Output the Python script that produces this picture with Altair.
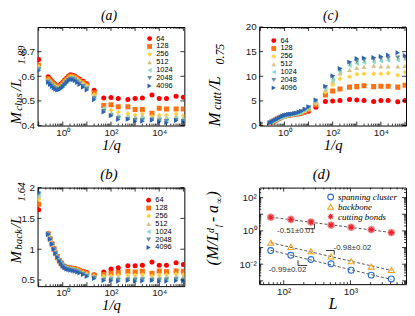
import altair as alt
import pandas as pd

# ---------------- data ----------------
SIZES = ["64", "128", "256", "512", "1024", "2048", "4096"]
COLORS = ["#ff0000", "#ff7010", "#ffd33d", "#d6c28e", "#86dcc8", "#6b8c9b", "#2b63b3"]
SHAPES = ["circle", "square", "diamond", "triangle-up", "triangle-left", "triangle-down", "triangle-right"]

INV_Q = [0.1, 0.25, 0.3, 0.36, 0.43, 0.5, 0.6, 0.72, 0.85, 1.0, 1.2, 1.45, 1.75, 2.1, 2.6, 3.2, 4.0, 5.0, 7.0, 10.0,
         20, 50, 100, 200, 500, 1000, 2000, 5000, 10000, 20000, 50000, 100000]

CLUS = {
    "64":   [0.668, 0.598, 0.589, 0.580, 0.572, 0.567, 0.563, 0.564, 0.569, 0.576, 0.585, 0.593, 0.601, 0.606, 0.604, 0.600, 0.594, 0.588, 0.580, 0.570,
             0.543, 0.512, 0.514, 0.510, 0.506, 0.510, 0.512, 0.524, 0.510, 0.510, 0.519, 0.515],
    "128":  [0.645, 0.590, 0.582, 0.574, 0.567, 0.562, 0.558, 0.559, 0.564, 0.571, 0.580, 0.588, 0.596, 0.601, 0.600, 0.596, 0.590, 0.583, 0.575, 0.565,
             0.533, 0.481, 0.484, 0.476, 0.476, 0.465, 0.465, 0.450, 0.470, 0.467, 0.467, 0.467],
    "256":  [0.640, 0.586, 0.578, 0.570, 0.563, 0.558, 0.555, 0.556, 0.561, 0.568, 0.577, 0.585, 0.593, 0.598, 0.597, 0.593, 0.587, 0.580, 0.571, 0.561,
             0.525, 0.467, 0.462, 0.454, 0.448, 0.443, 0.448, 0.438, 0.442, 0.442, 0.447, 0.440],
    "512":  [0.635, 0.583, 0.575, 0.567, 0.560, 0.555, 0.552, 0.553, 0.558, 0.565, 0.574, 0.582, 0.590, 0.595, 0.594, 0.590, 0.584, 0.577, 0.567, 0.557,
             0.520, 0.462, 0.452, 0.442, 0.440, 0.436, 0.440, 0.432, 0.437, 0.432, 0.438, 0.433],
    "1024": [0.632, 0.580, 0.572, 0.564, 0.557, 0.552, 0.549, 0.550, 0.555, 0.562, 0.571, 0.579, 0.587, 0.592, 0.591, 0.587, 0.581, 0.573, 0.563, 0.553,
             0.515, 0.470, 0.445, 0.436, 0.432, 0.428, 0.430, 0.428, 0.426, 0.425, 0.430, 0.425],
    "2048": [0.628, 0.578, 0.570, 0.562, 0.555, 0.550, 0.547, 0.548, 0.553, 0.560, 0.569, 0.577, 0.585, 0.590, 0.589, 0.585, 0.578, 0.570, 0.560, 0.549,
             0.510, 0.458, 0.440, 0.430, 0.425, 0.422, 0.422, 0.424, 0.420, 0.418, 0.422, 0.418],
    "4096": [0.622, 0.575, 0.567, 0.559, 0.552, 0.547, 0.544, 0.545, 0.550, 0.557, 0.566, 0.574, 0.582, 0.587, 0.586, 0.582, 0.575, 0.567, 0.556, 0.544,
             0.505, 0.455, 0.440, 0.425, 0.426, 0.417, 0.417, 0.422, 0.415, 0.411, 0.420, 0.415],
}

CUTT = {
    "64":   [0.18, 0.48, 0.68, 0.86, 1.04, 1.24, 1.44, 1.63, 1.82, 1.92, 2.00, 2.08, 2.12, 2.17, 2.24, 2.32, 2.40, 2.52, 2.70, 2.90,
             3.7, 4.9, 5.0, 5.1, 5.3, 5.2, 5.1, 4.9, 5.1, 5.1, 4.85, 5.1],
    "128":  [0.22, 0.50, 0.70, 0.88, 1.06, 1.26, 1.46, 1.65, 1.84, 1.94, 2.03, 2.12, 2.17, 2.22, 2.30, 2.38, 2.48, 2.63, 2.90, 3.20,
             4.2, 6.2, 7.0, 7.4, 7.8, 7.9, 8.1, 7.9, 8.0, 8.0, 7.8, 8.2],
    "256":  [0.25, 0.52, 0.71, 0.90, 1.08, 1.28, 1.48, 1.68, 1.86, 1.96, 2.06, 2.15, 2.20, 2.25, 2.33, 2.43, 2.53, 2.70, 3.00, 3.40,
             4.5, 6.8, 8.3, 9.5, 9.9, 10.4, 10.5, 10.5, 10.5, 10.6, 10.2, 10.8],
    "512":  [0.28, 0.53, 0.72, 0.92, 1.10, 1.30, 1.50, 1.70, 1.88, 1.98, 2.08, 2.18, 2.23, 2.28, 2.37, 2.47, 2.58, 2.75, 3.10, 3.50,
             4.7, 7.3, 9.0, 10.6, 11.3, 11.7, 11.9, 12.2, 12.0, 12.0, 12.0, 12.1],
    "1024": [0.30, 0.54, 0.73, 0.93, 1.12, 1.31, 1.51, 1.71, 1.90, 2.00, 2.10, 2.20, 2.25, 2.30, 2.40, 2.50, 2.62, 2.80, 3.15, 3.60,
             4.9, 7.6, 9.3, 10.9, 12.2, 12.6, 12.8, 12.9, 13.1, 13.2, 13.3, 13.4],
    "2048": [0.33, 0.55, 0.74, 0.94, 1.14, 1.33, 1.53, 1.73, 1.92, 2.03, 2.13, 2.22, 2.28, 2.33, 2.42, 2.52, 2.66, 2.85, 3.20, 3.70,
             5.0, 7.8, 9.8, 11.3, 12.6, 13.0, 13.3, 13.4, 13.6, 13.7, 13.8, 13.8],
    "4096": [0.35, 0.55, 0.75, 0.95, 1.15, 1.35, 1.55, 1.75, 1.95, 2.05, 2.15, 2.25, 2.30, 2.35, 2.45, 2.55, 2.70, 2.90, 3.30, 3.80,
             5.2, 8.0, 10.1, 11.6, 12.9, 13.6, 13.7, 13.8, 14.0, 14.3, 14.8, 14.2],
}

BACK = {
    "64":   [1.64, 1.250, 1.170, 1.090, 1.010, 0.940, 0.880, 0.820, 0.780, 0.745, 0.720, 0.705, 0.697, 0.695, 0.690, 0.685, 0.675, 0.660, 0.640, 0.620,
             0.585, 0.63, 0.68, 0.70, 0.73, 0.73, 0.74, 0.79, 0.74, 0.74, 0.78, 0.75],
    "128":  [1.73, 1.245, 1.165, 1.085, 1.005, 0.935, 0.875, 0.815, 0.775, 0.740, 0.715, 0.700, 0.692, 0.688, 0.683, 0.678, 0.668, 0.653, 0.632, 0.610,
             0.575, 0.59, 0.61, 0.62, 0.64, 0.63, 0.64, 0.61, 0.645, 0.635, 0.645, 0.64],
    "256":  [1.81, 1.240, 1.160, 1.080, 1.000, 0.930, 0.870, 0.810, 0.770, 0.735, 0.710, 0.695, 0.686, 0.682, 0.677, 0.671, 0.660, 0.645, 0.623, 0.598,
             0.565, 0.56, 0.565, 0.575, 0.575, 0.575, 0.585, 0.565, 0.575, 0.585, 0.595, 0.585],
    "512":  [1.86, 1.240, 1.160, 1.080, 1.000, 0.930, 0.870, 0.810, 0.768, 0.732, 0.707, 0.690, 0.681, 0.676, 0.670, 0.664, 0.652, 0.637, 0.614, 0.587,
             0.555, 0.535, 0.545, 0.55, 0.55, 0.55, 0.555, 0.535, 0.545, 0.555, 0.565, 0.555],
    "1024": [1.88, 1.240, 1.160, 1.080, 1.000, 0.930, 0.868, 0.808, 0.766, 0.729, 0.703, 0.686, 0.676, 0.671, 0.664, 0.657, 0.645, 0.630, 0.606, 0.577,
             0.545, 0.515, 0.525, 0.52, 0.525, 0.52, 0.525, 0.515, 0.52, 0.525, 0.535, 0.525],
    "2048": [1.90, 1.240, 1.160, 1.080, 1.000, 0.930, 0.866, 0.806, 0.763, 0.725, 0.699, 0.681, 0.671, 0.665, 0.657, 0.650, 0.638, 0.622, 0.597, 0.566,
             0.535, 0.50, 0.505, 0.50, 0.505, 0.50, 0.505, 0.50, 0.50, 0.505, 0.51, 0.50],
    "4096": [1.92, 1.240, 1.160, 1.080, 1.000, 0.930, 0.864, 0.804, 0.760, 0.720, 0.695, 0.676, 0.665, 0.659, 0.650, 0.642, 0.630, 0.614, 0.588, 0.555,
             0.525, 0.49, 0.487, 0.48, 0.49, 0.48, 0.483, 0.49, 0.48, 0.48, 0.487, 0.48],
}

# panel (d)
D_L = [64, 128, 256, 512, 1024, 2048, 4096]
D_SERIES = ["spanning cluster", "backbone", "cutting bonds"]
D_COLORS = ["#2f6fd0", "#f5a31a", "#e8202a"]
D_SPAN = [0.066, 0.034, 0.019, 0.0105, 0.0043, 0.0022, 0.0013]
D_BACKB = [0.195, 0.11, 0.06, 0.0295, 0.015, 0.0072, 0.0045]
D_CUT = [6.6, 4.9, 3.4, 2.24, 1.66, 1.2, 0.79]
FIT_L = [64, 4096]
FIT_SPAN = [0.068, 0.0012]
FIT_BACKB = [0.195, 0.0042]
FIT_CUT = [6.7, 0.80]
SLOPE_TXT = ["-0.51\u00b10.01", "-0.98\u00b10.02", "-0.99\u00b10.02"]
SLOPE_TXT_L = [152, 1070, 114]
SLOPE_TXT_V = [0.95, 0.10, 0.0043]
# small slope brackets (segments): x, x2, y, y2
BR_X = [206, 290, 432, 572, 164, 164]
BR_X2 = [290, 290, 572, 572, 164, 226]
BR_Y = [1.36, 2.69, 0.0667, 0.0667, 0.0172, 0.0084]
BR_Y2 = [1.36, 1.36, 0.0667, 0.037, 0.0084, 0.0084]

# ---------------- style ----------------
SANS = "Liberation Sans"
SERIF = "Liberation Serif"
W, H = 149, 100
XDOM = [0.09, 110000]
ONE = pd.DataFrame({"k": [0]})
ASTER = "M-1,0L1,0M0,-1L0,1M-0.7,-0.7L0.7,0.7M-0.7,0.7L0.7,-0.7"

SUP = {1: "10\u2070", 100: "10\u00b2", 10000: "10\u2074", 1000: "10\u00b3", 0.01: "10\u207b\u00b2"}


def sup_expr(vals):
    expr = "''"
    for v in vals:
        expr = f"abs(datum.value - {v}) < {v}*0.01 ? '{SUP[v]}' : " + expr
    return expr


def piece(txt, size, x, y, angle=270, align="left", baseline="alphabetic", style="italic"):
    return alt.Chart(ONE).mark_text(
        text=txt, fontSize=size, angle=angle, align=align, baseline=baseline,
        font=SERIF, fontStyle=style, color="black"
    ).encode(x=alt.value(x), y=alt.value(y))


def tick_layers(field, vals, scale, axis, length, orient, h=H):
    df = pd.DataFrame({field: vals})
    base = alt.Chart(df).mark_rule(color="black", strokeWidth=0.8)
    if orient == "x":
        enc = alt.X(f"{field}:Q", scale=scale, axis=axis)
        return [base.encode(x=enc, y=alt.value(h), y2=alt.value(h - length)),
                base.encode(x=enc, y=alt.value(0), y2=alt.value(length))]
    enc = alt.Y(f"{field}:Q", scale=scale, axis=axis)
    return [base.encode(y=enc, x=alt.value(0), x2=alt.value(length)),
            base.encode(y=enc, x=alt.value(W), x2=alt.value(W - length))]


XMAJ = [0.1, 1, 10, 100, 1000, 10000, 100000]
XMIN = [k * 10 ** e for e in range(-1, 5) for k in range(2, 10)]


def series_panel(values, ydom, yticks, ylabfmt, legx, legy, letter, letter_size, letter_y, title_pieces):
    rows = []
    for s in SIZES:
        for q, v in zip(INV_Q, values[s]):
            rows.append({"q": q, "v": v, "L": s})
    df = pd.DataFrame(rows)
    xs = alt.Scale(type="log", domain=XDOM)
    ys = alt.Scale(domain=ydom, zero=False, nice=False)
    xax = alt.Axis(values=[1, 100, 10000], labelExpr=sup_expr([1, 100, 10000]),
                   title="1/q", titlePadding=0, labelPadding=2)
    yax = alt.Axis(values=yticks, format=ylabfmt, title=None, labelPadding=3)
    leg = alt.Legend(orient="none", legendX=legx, legendY=legy, title=None,
                     labelFont=SANS, labelFontSize=7.5, symbolSize=24, rowPadding=-1.5,
                     padding=0, labelOffset=3, symbolStrokeWidth=0)
    pts = alt.Chart(df).mark_point(filled=True, size=26, opacity=1, clip=True).encode(
        x=alt.X("q:Q", scale=xs, axis=xax),
        y=alt.Y("v:Q", scale=ys, axis=yax),
        color=alt.Color("L:N", scale=alt.Scale(domain=SIZES, range=COLORS), legend=leg),
        shape=alt.Shape("L:N", scale=alt.Scale(domain=SIZES, range=SHAPES), legend=leg),
    )
    layers = [pts]
    layers += tick_layers("q", XMAJ, xs, xax, 4, "x")
    layers += tick_layers("q", XMIN, xs, xax, 2, "x")
    layers += tick_layers("v", yticks, ys, yax, 4, "y")
    layers.append(piece(letter, letter_size, W / 2 - 2, letter_y, angle=0, align="center", baseline="middle"))
    for t, sz, x, y in title_pieces:
        layers.append(piece(t, sz, x, y))
    return alt.layer(*layers).properties(width=W, height=H)


panel_a = series_panel(CLUS, [0.4, 0.8], [0.4, 0.5, 0.6, 0.7], ".1f", 110, 8, "(a)", 14, -11.5,
                       [("M", 15, -17, 99), ("clus", 11, -16, 85), (" /L", 15, -17, 65), ("1.89", 11, -13, 38)])
panel_c = series_panel(CUTT, [0, 20], [0, 5, 10, 15, 20], "d", 11, 10, "(c)", 14, -11.5,
                       [("M", 17, -40, 101), ("cutt", 12, -39, 84), (" /L", 17, -40, 64), ("0.75", 12, -36, 38)])
panel_b = series_panel(BACK, [0.4, 2.0], [0.5, 1.0, 1.5, 2.0], "~g", 109, 9, "(b)", 15, -14,
                       [("M", 15, -17, 77), ("back", 11, -16, 63), (" /L", 15, -17, 41), ("1.64", 11, -13, 14)])

# ---- panel d ----
rows = []
for name, vals in zip(D_SERIES, [D_SPAN, D_BACKB, D_CUT]):
    for l, v in zip(D_L, vals):
        rows.append({"L": l, "v": v, "s": name})
ddf = pd.DataFrame(rows)
frows = []
for name, vals in zip(D_SERIES, [FIT_SPAN, FIT_BACKB, FIT_CUT]):
    for l, v in zip(FIT_L, vals):
        frows.append({"L": l, "v": v, "s": name})
fdf = pd.DataFrame(frows)

DH = 98
dxs = alt.Scale(type="log", domain=[43, 6800])
dys = alt.Scale(type="log", domain=[0.00063, 400])
dxax = alt.Axis(values=[100, 1000], labelExpr=sup_expr([100, 1000]),
                title="L", titleFontSize=16, titlePadding=0, labelPadding=2)
dyax = alt.Axis(values=[0.01, 1, 100], labelExpr=sup_expr([0.01, 1, 100]), title=None, labelPadding=3)
dleg = alt.Legend(orient="none", legendX=68, legendY=5, title=None, labelFont=SERIF, labelFontStyle="italic",
                  labelFontSize=9, symbolSize=34, rowPadding=-1.5, padding=0, labelOffset=3,
                  symbolStrokeWidth=1.1)
fits = alt.Chart(fdf).mark_line(strokeDash=[3, 2], color="#444444", strokeWidth=0.9).encode(
    x=alt.X("L:Q", scale=dxs, axis=dxax), y=alt.Y("v:Q", scale=dys, axis=dyax), detail="s:N")
halo = alt.Chart(ddf[ddf["s"] == "cutting bonds"]).mark_point(filled=True, size=60, color="#f28b8b", opacity=0.9).encode(
    x=alt.X("L:Q", scale=dxs, axis=dxax), y=alt.Y("v:Q", scale=dys, axis=dyax))
dpts = alt.Chart(ddf).mark_point(filled=False, size=36, strokeWidth=1.1, opacity=1).encode(
    x=alt.X("L:Q", scale=dxs, axis=dxax),
    y=alt.Y("v:Q", scale=dys, axis=dyax),
    color=alt.Color("s:N", scale=alt.Scale(domain=D_SERIES, range=D_COLORS), legend=dleg),
    shape=alt.Shape("s:N", scale=alt.Scale(domain=D_SERIES, range=["circle", "triangle-up", ASTER]), legend=dleg),
)
bdf = pd.DataFrame({"L": BR_X, "L2": BR_X2, "v": BR_Y, "v2": BR_Y2})
brackets = alt.Chart(bdf).mark_rule(color="#222222", strokeWidth=0.9).encode(
    x=alt.X("L:Q", scale=dxs, axis=dxax), x2="L2:Q",
    y=alt.Y("v:Q", scale=dys, axis=dyax), y2="v2:Q")
tdf = pd.DataFrame({"L": SLOPE_TXT_L, "v": SLOPE_TXT_V, "t": SLOPE_TXT})
slopes = alt.Chart(tdf).mark_text(font=SANS, fontSize=8, color="#333333").encode(
    x=alt.X("L:Q", scale=dxs, axis=dxax), y=alt.Y("v:Q", scale=dys, axis=dyax), text="t:N")

DXMAJ = [100, 1000]
DXMIN = [50, 60, 70, 80, 90, 200, 300, 400, 500, 600, 700, 800, 900, 2000, 3000, 4000, 5000, 6000]
DYMAJ = [0.001, 0.01, 0.1, 1, 10, 100]
DYMIN = [k * 10 ** e for e in range(-4, 3) for k in range(2, 10) if 0.00063 < k * 10 ** e < 400]

dlayers = [fits, halo, dpts, brackets, slopes]
dlayers += tick_layers("L", DXMAJ, dxs, dxax, 4, "x", DH)
dlayers += tick_layers("L", DXMIN, dxs, dxax, 2, "x", DH)
dlayers += tick_layers("v", DYMAJ, dys, dyax, 4, "y", DH)
dlayers += tick_layers("v", DYMIN, dys, dyax, 2, "y", DH)
dlayers.append(piece("(d)", 15, 63, -14, angle=0, align="center", baseline="middle"))
for t, sz, x, y in [("(M/L", 17, -42, 79), ("d", 10, -46, 46), ("f", 8, -39, 40),
                    (" - a", 16, -42, 35), ("\u221e", 9, -38, 16), (")", 16, -42, 9)]:
    dlayers.append(piece(t, sz, x, y))
panel_d = alt.layer(*dlayers).properties(width=W, height=DH)

chart = alt.concat(panel_a, panel_c, panel_b, panel_d, columns=2, spacing={"row": 63, "column": 76},
                   bounds="flush").resolve_scale(color="independent", shape="independent").resolve_legend(
    color="independent", shape="independent").properties(
    padding={"left": 0, "top": -2, "right": 0, "bottom": 0}).configure_view(
    stroke="black", strokeWidth=1).configure_axis(
    grid=False, ticks=False, domain=False, labelFont=SANS, labelFontSize=10, labelColor="#1a1a1a",
    titleFont=SERIF, titleFontStyle="italic", titleFontWeight="normal", titleFontSize=15, titleColor="black")

chart.save("out.html", embed_options={"renderer": "svg", "actions": False})
